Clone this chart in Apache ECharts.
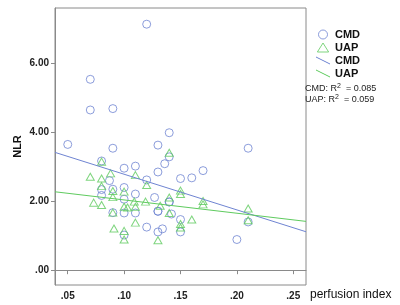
<!DOCTYPE html>
<html>
<head>
<meta charset="utf-8">
<script src="https://cdn.jsdelivr.net/npm/echarts@6/dist/echarts.min.js"></script>
<style>
  html, body { margin: 0; padding: 0; background: #fff; }
  #main { width: 400px; height: 305px; }
</style>
</head>
<body>
<div id="main"></div>
<script>
// CMD group (circles)
const cmdX = [0.050, 0.070, 0.070, 0.090, 0.120, 0.090, 0.080, 0.100, 0.110, 0.087,
              0.100, 0.090, 0.080, 0.080, 0.110, 0.100, 0.090, 0.100, 0.110, 0.100,
              0.140, 0.130, 0.136, 0.140, 0.130, 0.170, 0.160, 0.150, 0.120, 0.127,
              0.140, 0.140, 0.130, 0.130, 0.142, 0.150, 0.120, 0.134, 0.130, 0.150,
              0.200, 0.210, 0.210];
const cmdY = [3.65, 5.54, 4.65, 4.69, 7.14, 3.54, 3.17, 2.96, 3.02, 2.60,
              2.40, 2.35, 2.34, 2.17, 2.21, 2.06, 1.67, 1.66, 1.66, 1.02,
              3.99, 3.63, 3.09, 3.29, 2.85, 2.89, 2.68, 2.66, 2.62, 2.11,
              1.98, 1.98, 1.71, 1.71, 1.63, 1.47, 1.25, 1.20, 1.11, 1.11,
              0.89, 3.54, 1.40];

// UAP group (triangles)
const uapX = [0.080, 0.070, 0.080, 0.088, 0.110, 0.080, 0.090, 0.100, 0.090, 0.073,
              0.080, 0.100, 0.103, 0.110, 0.090, 0.110, 0.091, 0.100, 0.100, 0.140,
              0.120, 0.150, 0.150, 0.140, 0.109, 0.119, 0.132, 0.170, 0.170, 0.140,
              0.160, 0.150, 0.150, 0.130, 0.210, 0.210];
const uapY = [3.15, 2.71, 2.66, 2.81, 2.76, 2.44, 2.30, 2.28, 2.12, 1.96,
              1.89, 1.84, 1.82, 1.84, 1.67, 1.38, 1.21, 1.14, 0.89, 3.41,
              2.47, 2.31, 2.21, 2.11, 1.99, 1.99, 1.87, 2.01, 1.91, 1.66,
              1.47, 1.34, 1.24, 0.87, 1.79, 1.45];

// linear fits as drawn in the reference
const cmdFit = { intercept: 3.82, slope: -10.35 };
const uapFit = { intercept: 2.425, slope: -3.86 };
const cmdR2 = 0.085;
const uapR2 = 0.059;

const xTicks = [0.05, 0.10, 0.15, 0.20, 0.25];
const yTicks = [0, 2, 4, 6];
const xRange = [0.0387, 0.2613];
const yRange = [-0.43, 7.61];

const blue = '#6f84d2';
const green = '#5fcb5f';
const axisGray = '#8a8a8a';
const font = 'Liberation Sans, Arial, sans-serif';

function zip(xs, ys) {
  return xs.map((x, i) => [x, ys[i]]);
}
function fitLine(fit) {
  return xRange.map(x => [x, fit.intercept + fit.slope * x]);
}
function spssNum(v) {
  return v.toFixed(2).replace(/^0\./, '.');
}

const chart = echarts.init(document.getElementById('main'), null, { renderer: 'canvas' });

const r2Rich = {
  a: { fontFamily: font, fontSize: 9, fill: '#222' },
  s: { fontFamily: font, fontSize: 7, fill: '#222', verticalAlign: 'top', padding: [0, 0, 4, 0] }
};

const option = {
  backgroundColor: '#fff',
  animation: false,
  grid: {
    left: 55, right: 94, top: 8, bottom: 20,
    show: true, borderColor: axisGray, borderWidth: 1
  },
  legend: {
    orient: 'vertical',
    left: 311, top: 24,
    itemWidth: 14, itemHeight: 9, itemGap: 2,
    textStyle: { fontFamily: font, fontSize: 11, fontWeight: 'bold', color: '#111' },
    formatter: name => name.replace(' fit', ''),
    selectedMode: false,
    data: [
      { name: 'CMD', icon: 'circle',
        itemStyle: { color: 'transparent', borderColor: blue, borderWidth: 1 } },
      { name: 'UAP', icon: 'path://M5,0L10,8L0,8Z',
        itemStyle: { color: 'transparent', borderColor: green, borderWidth: 1 } },
      { name: 'CMD fit', icon: 'path://M0,0L14,7L14,8L0,1Z',
        itemStyle: { color: blue, borderWidth: 0 } },
      { name: 'UAP fit', icon: 'path://M0,0L14,7L14,8L0,1Z',
        itemStyle: { color: green, borderWidth: 0 } }
    ]
  },
  xAxis: {
    type: 'value',
    min: xRange[0], max: xRange[1],
    name: 'perfusion index',
    nameLocation: 'end',
    nameGap: 4,
    nameMoveOverlap: false,
    nameTextStyle: { fontFamily: font, fontSize: 12, color: '#111',
                     verticalAlign: 'top', padding: [19, 0, 0, 0] },
    axisLine: { lineStyle: { color: axisGray } },
    axisTick: { customValues: xTicks, length: 4, lineStyle: { color: axisGray } },
    axisLabel: { customValues: xTicks, formatter: spssNum, margin: 6,
                 fontFamily: font, fontSize: 10, fontWeight: 'bold', color: '#222' },
    splitLine: { show: false }
  },
  yAxis: {
    type: 'value',
    min: yRange[0], max: yRange[1],
    name: 'NLR',
    nameLocation: 'middle',
    nameRotate: 90,
    nameGap: 32,
    nameMoveOverlap: false,
    nameTextStyle: { fontFamily: font, fontSize: 11, fontWeight: 'bold', color: '#111' },
    axisLine: { lineStyle: { color: axisGray } },
    axisTick: { customValues: yTicks, length: 4, lineStyle: { color: axisGray } },
    axisLabel: { customValues: yTicks, formatter: spssNum, margin: 6,
                 fontFamily: font, fontSize: 10, fontWeight: 'bold', color: '#222' },
    splitLine: { show: false }
  },
  graphic: [
    {
      type: 'text', left: 305, top: 83,
      style: { text: '{a|CMD: R}{s|2}{a|  = ' + cmdR2.toFixed(3) + '}', rich: r2Rich }
    },
    {
      type: 'text', left: 305, top: 94,
      style: { text: '{a|UAP: R}{s|2}{a|  = ' + uapR2.toFixed(3) + '}', rich: r2Rich }
    }
  ],
  series: [
    {
      name: 'CMD', type: 'scatter', symbol: 'circle', symbolSize: 8,
      itemStyle: { color: 'transparent', borderColor: blue, borderWidth: 1 },
      data: zip(cmdX, cmdY)
    },
    {
      name: 'UAP', type: 'scatter', symbol: 'triangle', symbolSize: [8, 7],
      itemStyle: { color: 'transparent', borderColor: green, borderWidth: 1 },
      data: zip(uapX, uapY)
    },
    {
      name: 'CMD fit', type: 'line', showSymbol: false, silent: true,
      lineStyle: { color: blue, width: 1 }, itemStyle: { color: blue },
      data: fitLine(cmdFit)
    },
    {
      name: 'UAP fit', type: 'line', showSymbol: false, silent: true,
      lineStyle: { color: green, width: 1 }, itemStyle: { color: green },
      data: fitLine(uapFit)
    }
  ]
};

chart.setOption(option);
</script>
</body>
</html>
